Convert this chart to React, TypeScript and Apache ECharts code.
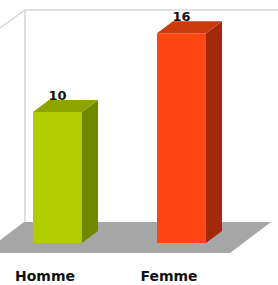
import React, { useEffect, useRef } from "react";
import * as echarts from "echarts";

const categories = ["Homme", "Femme"];
const values = [10, 16];
const frontColors = ["#b2cc00", "#ff4612"];
const topColors = ["#8ea500", "#c93a0c"];
const sideColors = ["#6f8800", "#a3290a"];

export default function App() {
  const ref = useRef<HTMLDivElement>(null);
  useEffect(() => {
    if (!ref.current) return;
    const chart = echarts.init(ref.current, undefined, { renderer: "svg" });
    const dx = 16;
    const dy = 12;
    chart.setOption({
      animation: false,
      backgroundColor: "#ffffff",
      grid: { left: 57.5, right: 96.5, top: 7, bottom: 42 },
      xAxis: {
        type: "category",
        data: categories,
        boundaryGap: false,
        axisLine: { show: false },
        axisTick: { show: false },
        splitLine: { show: false },
        axisLabel: {
          fontSize: 14,
          fontWeight: "bold",
          fontFamily: "DejaVu Sans",
          color: "#111",
          margin: 26,
          padding: [0, 25, 0, 0],
        },
      },
      yAxis: {
        type: "value",
        min: 0,
        max: 18,
        show: false,
        splitLine: { show: false },
      },
      graphic: [
        {
          type: "polyline",
          z: 0,
          shape: { points: [[0, 28], [25, 10], [278, 10]] },
          style: { stroke: "#d6d6d6", lineWidth: 1.5, fill: null },
        },
        {
          type: "line",
          z: 0,
          shape: { x1: 25, y1: 10, x2: 25, y2: 224 },
          style: { stroke: "#d6d6d6", lineWidth: 1.5 },
        },
        {
          type: "polygon",
          z: 0,
          shape: { points: [[24, 222], [271, 222], [230, 253], [-17, 253]] },
          style: { fill: "#a6a6a6" },
        },
      ],
      series: [
        {
          type: "custom",
          z: 10,
          clip: false,
          data: values.map((v, i) => [i, v]),
          renderItem: (params: any, api: any) => {
            const idx = api.value(0);
            const v = api.value(1);
            const top = api.coord([idx, v]);
            const base = api.coord([idx, 0]);
            const next = api.coord([1, 0]);
            const first = api.coord([0, 0]);
            const band = Math.abs(next[0] - first[0]) || 124;
            const bw = band * 0.395;
            const x0 = top[0] - bw / 2;
            const x1 = top[0] + bw / 2;
            const yt = top[1];
            const yb = base[1];
            const i = params.dataIndex;
            return {
              type: "group",
              children: [
                {
                  type: "polygon",
                  shape: { points: [[x1, yt], [x1 + dx, yt - dy], [x1 + dx, yb - dy], [x1, yb]] },
                  style: { fill: sideColors[i] },
                },
                {
                  type: "polygon",
                  shape: { points: [[x0, yt], [x1, yt], [x1 + dx, yt - dy], [x0 + dx, yt - dy]] },
                  style: { fill: topColors[i] },
                },
                {
                  type: "polygon",
                  shape: { points: [[x0, yt], [x1, yt], [x1, yb], [x0, yb]] },
                  style: { fill: frontColors[i] },
                },
                {
                  type: "text",
                  x: top[0],
                  y: yt - 10,
                  style: {
                    text: String(v),
                    fontSize: 13,
                    fontWeight: "bold",
                    fontFamily: "DejaVu Sans",
                    fill: "#111",
                    align: "center",
                    verticalAlign: "bottom",
                  },
                },
              ],
            };
          },
        },
      ],
    });
    return () => chart.dispose();
  }, []);
  return <div ref={ref} style={{ width: 278, height: 285, position: "absolute", left: 0, top: 0 }} />;
}
